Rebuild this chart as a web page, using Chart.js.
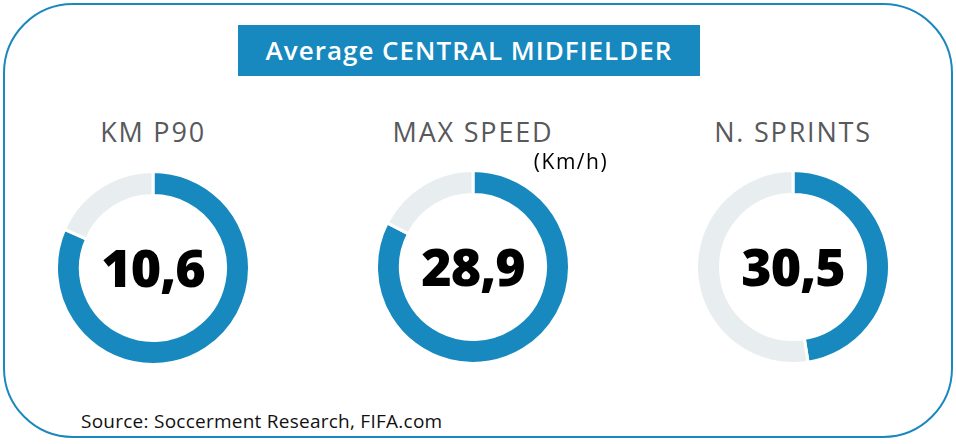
<!DOCTYPE html>
<html>
<head>
<meta charset="utf-8">
<script src="https://cdn.jsdelivr.net/npm/chart.js@4.4.1/dist/chart.umd.min.js"></script>
<style>
  html, body { margin: 0; padding: 0; background: #fff; }
  #wrap { position: relative; width: 956px; height: 444px; overflow: hidden; font-family: "Open Sans", sans-serif; }
  #frame { position: absolute; left: 3px; top: 3px; width: 946px; height: 431px; border: 2px solid #1a88bf; border-radius: 70px; }
  #banner { position: absolute; left: 238px; top: 25px; width: 462px; height: 51px; background: #1789bf;
            color: #fff; font-size: 26px; font-weight: 600; line-height: 51px; text-align: center; letter-spacing: 1px; }
  .lbl { position: absolute; transform: translate(-50%, -50%); white-space: nowrap; }
  .metric { font-size: 27px; font-weight: 500; color: #58595b; letter-spacing: 1.8px; }
  .val { font-size: 52px; font-weight: 800; color: #000; letter-spacing: -1px; }
  .ring { position: absolute; }
  #unit { font-size: 21px; font-weight: 500; color: #000; letter-spacing: 1.5px; }
  #source { position: absolute; left: 81px; top: 408px; font-size: 19px; font-weight: 500; color: #111; letter-spacing: 0.25px; }
</style>
</head>
<body>
<div id="wrap">
  <div id="frame"></div>
  <div id="banner">Average CENTRAL MIDFIELDER</div>
  <div id="source">Source: Soccerment Research, FIFA.com</div>
</div>
<script>
// what each ring shows
const metrics = ['KM P90', 'MAX SPEED', 'N. SPRINTS'];
const values = [10.6, 28.9, 30.5];
const valueLabels = ['10,6', '28,9', '30,5'];
// grey remainder of each ring
const remainders = [2.4, 6.1, 33.7];
const unitLabel = '(Km/h)';

const BLUE = '#1789bf';
const GREY = '#e8eeef';

// ring centres on the page
const centers = [[153, 268], [473, 267], [793, 267]];
const SIZE = 196;

const wrap = document.getElementById('wrap');

function addLabel(text, cls, x, y, id) {
  const d = document.createElement('div');
  d.className = 'lbl ' + cls;
  if (id) d.id = id;
  d.textContent = text;
  d.style.left = x + 'px';
  d.style.top = y + 'px';
  wrap.appendChild(d);
}

metrics.forEach((name, i) => {
  const [cx, cy] = centers[i];
  const c = document.createElement('canvas');
  c.className = 'ring';
  c.width = SIZE; c.height = SIZE;
  c.style.left = (cx - SIZE / 2) + 'px';
  c.style.top = (cy - SIZE / 2) + 'px';
  c.style.width = SIZE + 'px'; c.style.height = SIZE + 'px';
  wrap.appendChild(c);

  new Chart(c, {
    type: 'doughnut',
    data: {
      labels: [name, ''],
      datasets: [{
        data: [values[i], remainders[i]],
        backgroundColor: [BLUE, GREY],
        borderColor: '#fff',
        borderWidth: 3,
        hoverOffset: 0,
        offset: 0
      }]
    },
    options: {
      responsive: false,
      animation: false,
      events: [],
      cutout: 72.5,
      layout: { padding: 0 },
      plugins: { legend: { display: false }, tooltip: { enabled: false } }
    }
  });

  addLabel(name, 'metric', cx, 131);
  addLabel(valueLabels[i], 'val', cx, cy - 2);
});

addLabel(unitLabel, '', 571, 161, 'unit');
</script>
</body>
</html>
